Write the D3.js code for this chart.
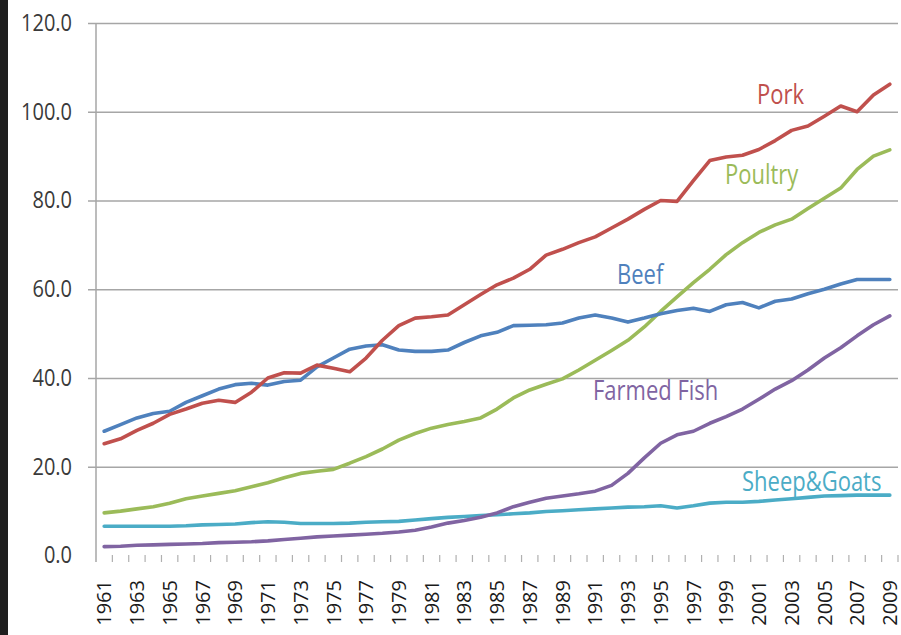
<!DOCTYPE html>
<html>
<head>
<meta charset="utf-8">
<script src="https://cdn.jsdelivr.net/npm/d3@7"></script>
<style>
  body { margin: 0; background: #fff; }
  svg { display: block; }
</style>
</head>
<body>
<div id="container"></div>
<script>
const width = 901,
  height = 635;

// left/right of plot, top/bottom of value range
const plotLeft = 96, plotRight = 898, plotTop = 23, plotBottom = 555.5;

/* DATA */
const years = d3.range(1961, 2010);
const yTicks = [0, 20, 40, 60, 80, 100, 120];

const pork = [25.2, 26.3, 28.2, 29.8, 31.8, 33, 34.3, 35, 34.5, 36.8,
  40, 41.2, 41.1, 42.9, 42.2, 41.4, 44.5, 48.5, 51.8, 53.5,
  53.8, 54.2, 56.5, 58.8, 61, 62.5, 64.5, 67.7, 69, 70.5,
  71.8, 73.8, 75.8, 78, 80, 79.8, 84.5, 89, 89.8, 90.2,
  91.5, 93.5, 95.8, 96.8, 99, 101.3, 100, 103.8, 106.2];
const beef = [28, 29.5, 31, 32, 32.5, 34.5, 36, 37.5, 38.5, 38.8,
  38.4, 39.2, 39.5, 42.5, 44.5, 46.5, 47.2, 47.5, 46.3, 46,
  46, 46.3, 48, 49.5, 50.3, 51.8, 51.9, 52, 52.4, 53.5,
  54.2, 53.5, 52.6, 53.5, 54.5, 55.2, 55.7, 55, 56.5, 57,
  55.8, 57.3, 57.8, 59, 60, 61.2, 62.2, 62.2, 62.2];
const poultry = [9.6, 10, 10.5, 11, 11.8, 12.8, 13.4, 14, 14.6, 15.5,
  16.4, 17.5, 18.5, 19, 19.4, 20.8, 22.3, 24, 26, 27.5,
  28.7, 29.5, 30.2, 31, 33, 35.5, 37.3, 38.6, 39.8, 41.8,
  44, 46.2, 48.5, 51.5, 55, 58.3, 61.5, 64.5, 67.8, 70.5,
  72.8, 74.5, 75.8, 78.2, 80.5, 82.8, 87, 90, 91.4];
const farmedFish = [2.0, 2.1, 2.3, 2.4, 2.5, 2.6, 2.7, 2.9, 3.0, 3.1,
  3.3, 3.6, 3.9, 4.2, 4.4, 4.6, 4.8, 5.0, 5.3, 5.7,
  6.4, 7.3, 7.9, 8.6, 9.6, 11.0, 12.0, 12.9, 13.4, 13.9,
  14.5, 15.8, 18.5, 22, 25.3, 27.2, 28, 29.8, 31.3, 33,
  35.2, 37.5, 39.4, 41.8, 44.5, 46.8, 49.5, 52, 54];
const sheepGoats = [6.6, 6.6, 6.6, 6.6, 6.6, 6.7, 6.9, 7.0, 7.1, 7.4,
  7.6, 7.5, 7.2, 7.2, 7.2, 7.3, 7.5, 7.6, 7.7, 8.0,
  8.3, 8.6, 8.8, 9.0, 9.2, 9.4, 9.6, 9.9, 10.1, 10.3,
  10.5, 10.7, 10.9, 11.0, 11.2, 10.7, 11.2, 11.8, 12.0, 12.0,
  12.2, 12.5, 12.8, 13.1, 13.4, 13.5, 13.6, 13.6, 13.6];

const series = [
  { name: "Sheep&Goats", values: sheepGoats, color: "#4bacc6", lx: 742, ly: 491 },
  { name: "Farmed Fish", values: farmedFish, color: "#8064a2", lx: 593, ly: 400 },
  { name: "Poultry", values: poultry, color: "#9bbb59", lx: 725, ly: 184 },
  { name: "Beef", values: beef, color: "#4f81bd", lx: 617, ly: 284 },
  { name: "Pork", values: pork, color: "#c0504d", lx: 757, ly: 104 }
];

const svg = d3.select("#container").append("svg")
  .attr("width", width)
  .attr("height", height)

// dark strip on the left edge
svg.append("rect")
  .attr("x", 0).attr("y", 0)
  .attr("width", 8).attr("height", height)
  .attr("fill", "#1f1f1f")

/* SCALES */
const xScale = d3.scaleBand()
  .domain(years)
  .range([plotLeft, plotRight])

const yScale = d3.scaleLinear()
  .domain([0, 120])
  .range([plotBottom, plotTop])

/* Y AXIS + GRID */
const yAxis = d3.axisLeft(yScale)
  .tickValues(yTicks)
  .tickSize(-(plotRight - 88))
  .tickPadding(16)
  .tickFormat(d3.format(".1f"))

const yG = svg.append("g")
  .attr("transform", `translate(88,0)`)
  .call(yAxis)
yG.select(".domain").remove()
yG.selectAll(".tick line")
  .attr("stroke", "#a6a6a6")
  .attr("stroke-width", 1.5)
  .filter(d => d === 0).remove()
yG.selectAll(".tick text")
  .style("font-family", "'Open Sans', sans-serif")
  .style("font-size", "20px")
  .attr("fill", "#3a3a3a")
  .attr("transform", "scale(1,1.15)")

// vertical axis line
svg.append("line")
  .attr("x1", plotLeft).attr("x2", plotLeft)
  .attr("y1", yScale(120)).attr("y2", 562)
  .attr("stroke", "#a6a6a6")
  .attr("stroke-width", 1.5)

/* X AXIS (tick marks between categories, no axis line) */
svg.append("g")
  .selectAll("line")
  .data(years)
  .join("line")
  .attr("x1", d => xScale(d) + xScale.step())
  .attr("x2", d => xScale(d) + xScale.step())
  .attr("y1", 555)
  .attr("y2", 562)
  .attr("stroke", "#b0b0b0")
  .attr("stroke-width", 1.2)

const xAxis = d3.axisBottom(xScale)
  .tickValues(years.filter(y => (y - 1961) % 2 === 0))
  .tickSize(0)

const xG = svg.append("g")
  .attr("transform", `translate(0,555)`)
  .call(xAxis)
xG.select(".domain").remove()
xG.selectAll(".tick text")
  .style("font-family", "'Open Sans', sans-serif")
  .style("font-size", "20px")
  .attr("fill", "#1a1a1a")
  .attr("text-anchor", "end")
  .attr("transform", "rotate(-90)")
  .attr("x", -25)
  .attr("y", 0)
  .attr("dy", "0.36em")

/* LINES */
const line = d3.line()
  .x((d, i) => xScale(years[i]) + xScale.bandwidth() / 2)
  .y(d => yScale(d))

svg.selectAll("path.series")
  .data(series)
  .join("path")
  .attr("class", "series")
  .attr("d", d => line(d.values))
  .attr("fill", "none")
  .attr("stroke", d => d.color)
  .attr("stroke-width", 3.6)
  .attr("stroke-linejoin", "round")
  .attr("stroke-linecap", "round")

/* SERIES LABELS */
svg.selectAll("text.label")
  .data(series)
  .join("text")
  .attr("class", "label")
  .attr("transform", d => `translate(${d.lx},${d.ly}) scale(1,1.2)`)
  .style("font-family", "'Open Sans', sans-serif")
  .style("font-size", "22px")
  .attr("fill", d => d.color)
  .text(d => d.name)
</script>
</body>
</html>
